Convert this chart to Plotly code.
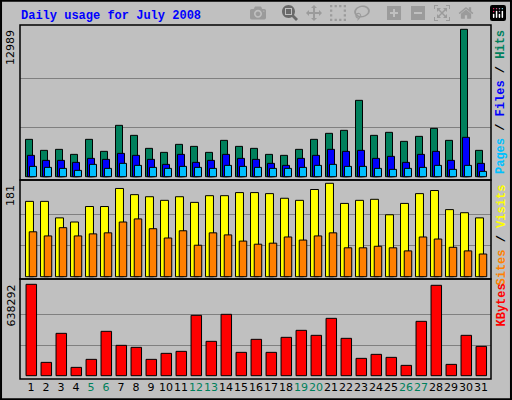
import plotly.graph_objects as go

days = list(range(1, 32))
weekend_days = [5, 6, 12, 13, 19, 20, 26, 27]

hits = [3292, 2322, 2410, 1969, 3292, 2234, 4526, 3644, 2498, 2145, 2851, 2674, 2145, 3203, 2674, 2498,
        1969, 1881, 2410, 3292, 3821, 4085, 6730, 3644, 3909, 3115, 3556, 4261, 3203, 12989, 2322]
files = [1881, 1440, 1440, 1264, 1616, 1528, 2057, 1881, 1528, 1087, 1969, 1264, 1440, 1969, 1616, 1528,
         1176, 999, 1616, 1881, 2410, 2234, 2322, 1616, 1793, 1264, 1969, 2234, 1440, 3468, 1176]
pages = [911, 823, 735, 558, 1087, 735, 1176, 999, 823, 735, 911, 823, 735, 999, 911, 823,
         735, 735, 823, 999, 1087, 911, 911, 735, 647, 735, 823, 999, 647, 999, 470]
visits = [146, 146, 114, 106, 136, 136, 171, 159, 155, 148, 155, 144, 157, 157, 163, 163,
          161, 152, 148, 169, 181, 142, 148, 150, 120, 142, 161, 167, 130, 124, 114]
sites = [87, 79, 95, 79, 83, 85, 106, 112, 93, 75, 89, 61, 85, 81, 69, 63,
         65, 77, 71, 79, 85, 56, 56, 59, 56, 50, 77, 73, 57, 50, 44]
kbytes = [638292, 93180, 295847, 58238, 114146, 309824, 211985, 198008, 114146, 156077, 170054,
          421640, 239939, 428628, 163065, 253916, 163065, 267893, 316812, 281870, 400674, 260904,
          121134, 149088, 128123, 72215, 379709, 631304, 79203, 281870, 204996]

GREEN = "#00805C"
BG = "#C0C0C0"
FONT = "Liberation Mono"

fig = go.Figure()


def add_bars(vals, color, center, width, yaxis):
    fig.add_trace(go.Bar(
        x=days, y=vals, width=width, offset=center - width / 2,
        marker=dict(color=color, line=dict(color="black", width=1)),
        xaxis="x", yaxis=yaxis, showlegend=False,
    ))


add_bars(hits, GREEN, -0.133, 0.467, "y")
add_bars(files, "#0000FF", 0.0, 0.467, "y")
add_bars(pages, "#00C0FF", 0.133, 0.467, "y")
add_bars(visits, "#FFFF00", -0.1, 0.53, "y2")
add_bars(sites, "#FF8000", 0.133, 0.5, "y2")
add_bars(kbytes, "#FF0000", 0.02, 0.7, "y3")

# panel geometry (pixels of a 512x400 page)
panels = [("y", 25, 180, max(hits), 3.3, 4.3),
          ("y2", 180, 279, max(visits), 2.3, 3.3),
          ("y3", 279, 379, max(kbytes), 3.3, 5.3)]

layout = dict(
    width=512, height=400, margin=dict(l=0, r=0, t=0, b=0),
    paper_bgcolor=BG, plot_bgcolor=BG, barmode="overlay",
    font=dict(family=FONT, size=12, color="black"),
)

ticktext = [f"<span style='color:{GREEN}'>{d}</span>" if d in weekend_days else str(d) for d in days]
layout["xaxis"] = dict(domain=[20 / 512, 491 / 512], range=[0.267, 31.667], tickvals=days,
                       ticktext=ticktext, ticks="", showgrid=False, zeroline=False, tickangle=0,
                       anchor="y3", tickfont=dict(family="DejaVu Sans", size=11))

shapes = []
annotations = []
for name, top, bot, mx, pad_b, pad_t in panels:
    h = bot - top - pad_b - pad_t
    per_px = mx / h
    key = "yaxis" if name == "y" else "yaxis" + name[1:]
    layout[key] = dict(
        domain=[1 - bot / 400, 1 - top / 400],
        range=[-pad_b * per_px, mx + pad_t * per_px],
        tickvals=[mx / 3, 2 * mx / 3], showticklabels=False, ticks="",
        showgrid=True, gridcolor="#808080", gridwidth=1, zeroline=False,
        anchor="x",
    )
    shapes.append(dict(type="rect", xref="paper", yref="paper", x0=20 / 512, x1=491 / 512,
                       y0=1 - bot / 400, y1=1 - top / 400, line=dict(color="black", width=1.5)))
    annotations.append(dict(text=str(mx), xref="paper", yref="paper", x=19 / 512, y=1 - (top + 3) / 400,
                            xanchor="right", yanchor="top", textangle=-90, showarrow=False,
                            font=dict(family="DejaVu Sans", size=11, color="black")))

sep = "<span style='color:black'> / </span>"
right_labels = [
    ("<span style='color:#00C0FF'>Pages</span>" + sep + "<span style='color:#0000FF'>Files</span>"
     + sep + f"<span style='color:{GREEN}'>Hits</span>", 25),
    ("<span style='color:#FF8000'>Sites</span>" + sep + "<span style='color:#FFFF00'>Visits</span>", 180),
    ("<span style='color:#FF0000'>KBytes</span>", 279),
]
for txt, top in right_labels:
    annotations.append(dict(text=txt, xref="paper", yref="paper", x=492 / 512, y=1 - (top + 3) / 400,
                            xanchor="left", yanchor="top", textangle=-90, showarrow=False,
                            font=dict(family=FONT, size=12, weight="bold")))

annotations.append(dict(text="<b>Daily usage for July 2008</b>", xref="paper", yref="paper",
                        x=19 / 512, y=1 - 7 / 400, xanchor="left", yanchor="top", showarrow=False,
                        font=dict(family=FONT, size=12, color="#0000FF")))

shapes.append(dict(type="rect", xref="paper", yref="paper", x0=0.002, x1=0.998, y0=0.002, y1=0.998,
                   line=dict(color="black", width=2)))
layout["shapes"] = shapes
layout["annotations"] = annotations
fig.update_layout(**layout)

fig.write_html("out.html", post_script="document.body.style.margin='0';document.body.style.overflow='hidden';")
